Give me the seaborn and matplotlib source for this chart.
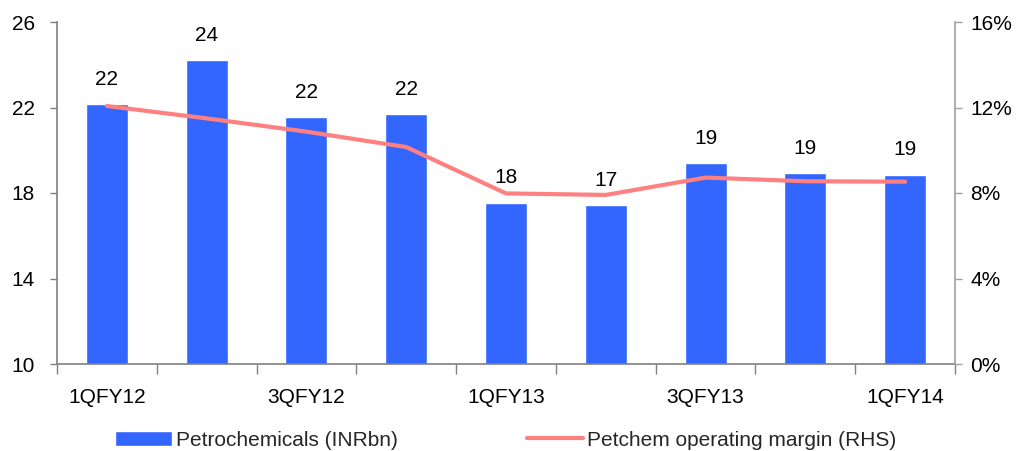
import numpy as np
import pandas as pd
import matplotlib
matplotlib.use("Agg")
import matplotlib.pyplot as plt
import seaborn as sns
from matplotlib.ticker import FixedLocator, FuncFormatter

quarters = ["1QFY12", "2QFY12", "3QFY12", "4QFY12", "1QFY13",
            "2QFY13", "3QFY13", "4QFY13", "1QFY14"]
petrochem_revenue = [22.16, 24.22, 21.56, 21.70, 17.55, 17.44, 19.40, 18.94, 18.86]
operating_margin = [12.07, 11.49, 10.87, 10.15, 7.98, 7.91, 8.72, 8.55, 8.53]
shown_quarters = ["1QFY12", "3QFY12", "1QFY13", "3QFY13", "1QFY14"]
left_ticks = [10, 14, 18, 22, 26]
right_ticks = [0, 4, 8, 12, 16]

bar_color = "#3366FF"
line_color = "#FF8080"
axis_gray = "#808080"

sns.set_theme(style="white")
plt.rcParams["font.family"] = ["Liberation Sans", "DejaVu Sans"]
fs = 15

df = pd.DataFrame({"quarter": quarters, "revenue": petrochem_revenue,
                   "margin": operating_margin, "pos": range(len(quarters))})

fig = plt.figure(figsize=(10.17, 4.51), dpi=100)
ax = fig.add_axes([57 / 1017, 87 / 451, 898 / 1017, 342 / 451])

sns.barplot(data=df, x="quarter", y="revenue", color=bar_color, width=0.42,
            saturation=1, ax=ax, label="Petrochemicals (INRbn)")
ax.bar_label(ax.containers[0], fmt="{:.0f}", padding=11, fontsize=fs, color="black")
ax.set_ylim(left_ticks[0], left_ticks[-1])
ax.set_yticks(left_ticks)
ax.set_xlim(-0.5, len(quarters) - 0.5)

# labelled quarters on major ticks, boundary tick marks on minor ticks
ax.xaxis.set_major_locator(FixedLocator([quarters.index(q) for q in shown_quarters]))
ax.set_xticklabels(shown_quarters)
ax.xaxis.set_minor_locator(FixedLocator(np.arange(-0.5, len(quarters), 1.0)))
ax.tick_params(axis="x", which="major", length=0, pad=17, labelsize=fs, colors="black")
ax.tick_params(axis="x", which="minor", length=7, width=1, color=axis_gray, bottom=True)
ax.tick_params(axis="y", length=5, width=1, color=axis_gray, pad=11, labelsize=fs,
               left=True, labelcolor="black")
ax.set_xlabel("")
ax.set_ylabel("")

ax2 = ax.twinx()
sns.lineplot(data=df, x="pos", y="margin", color=line_color, linewidth=3,
             ax=ax2, label="Petchem operating margin (RHS)")
ax2.set_ylim(right_ticks[0], right_ticks[-1])
ax2.set_yticks(right_ticks)
ax2.yaxis.set_major_formatter(FuncFormatter(lambda v, _: f"{v:.0f}%"))
ax2.tick_params(axis="y", length=5, width=1, color="#A0A0A0", pad=6, labelsize=fs,
                right=True, labelcolor="black")
ax2.set_ylabel("")
ax2.set_xlabel("")
ax.set_xlim(-0.5, len(quarters) - 0.5)

for a in (ax, ax2):
    a.spines["top"].set_visible(False)
ax.spines["left"].set_color(axis_gray)
ax.spines["bottom"].set_color(axis_gray)
ax.spines["right"].set_visible(False)
ax2.spines["left"].set_visible(False)
ax2.spines["bottom"].set_visible(False)
ax2.spines["right"].set_color("#A0A0A0")
for a in (ax, ax2):
    for s in a.spines.values():
        s.set_linewidth(1.2)

h1, l1 = ax.get_legend_handles_labels()
h2, l2 = ax2.get_legend_handles_labels()
if ax.get_legend():
    ax.get_legend().remove()
if ax2.get_legend():
    ax2.get_legend().remove()
fig.legend(h1 + h2, l1 + l2, loc="center", bbox_to_anchor=(506 / 1017, 1 - 440 / 451),
           ncol=2, frameon=False, fontsize=fs, handlelength=2.7, handleheight=0.72,
           handletextpad=0.2, columnspacing=6.2, borderaxespad=0)

fig.savefig("out.png", dpi=100)
